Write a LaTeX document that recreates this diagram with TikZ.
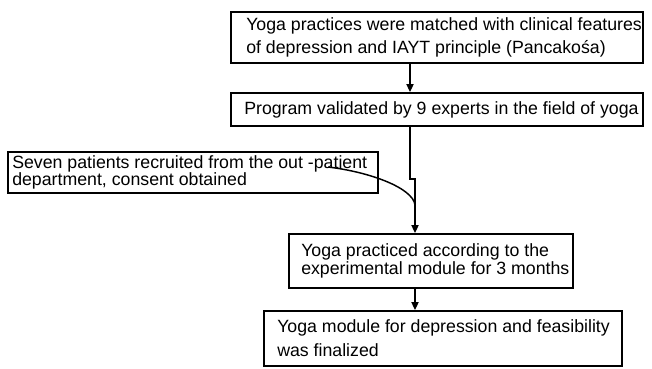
\documentclass[tikz,border=0pt]{standalone}
\usepackage{fontspec}
\setmainfont{Liberation Sans}
\usetikzlibrary{arrows.meta}
\begin{document}
\begin{tikzpicture}[x=0.75pt,y=-0.75pt,
  box/.style={draw=black, line width=1.5pt, inner sep=0pt},
  txt/.style={anchor=west, align=left, inner sep=0pt},
  arr/.style={draw=black, line width=0.8pt, -{Triangle[width=5.5pt,length=6pt]}},
  curveline/.style={draw=black, line width=1.1pt},
]
\useasboundingbox (0,0) rectangle (652,368);
% boxes
\node[box, minimum width=309pt, minimum height=38.25pt] (b1) at (437,37.5) {};
\node[box, minimum width=309pt, minimum height=24.75pt] (b2) at (437,109.5) {};
\node[box, minimum width=277.5pt, minimum height=30.75pt] (b4) at (193,172.5) {};
\node[box, minimum width=213pt, minimum height=40.5pt] (b3) at (431,261) {};
\node[box, minimum width=268.5pt, minimum height=41.25pt] (b5) at (443,338.5) {};
% texts
\node[txt, font={\fontsize{13.3pt}{17pt}\selectfont}] (t1) at (246,37.5)
  {Yoga practices were matched with clinical features\\of depression and IAYT principle (Pancakośa)};
\node[txt, font={\fontsize{13.3pt}{16pt}\selectfont}] (t2) at (244,109.5)
  {Program validated by 9 experts in the field of yoga};
\node[txt, font={\fontsize{13.3pt}{12.5pt}\selectfont}] (t4) at (12,172.5)
  {Seven patients recruited from the out -patient\\department, consent obtained};
\node[txt, font={\fontsize{13.3pt}{14pt}\selectfont}] (t3) at (301,261)
  {Yoga practiced according to the\\experimental module for 3 months};
\node[txt, font={\fontsize{13.3pt}{18pt}\selectfont}] (t5) at (277,338.5)
  {Yoga module for depression and feasibility\\was finalized};
% connectors
\coordinate (c1) at (410,0);
\draw[arr] (b1.south -| c1) -- (b2.north -| c1);
\coordinate (j1) at (410,179);
\coordinate (j2) at (415,179);
\draw[arr] (b2.south -| j1) -- (j1) -- (j2) -- (b3.north -| j2);
\coordinate (cs) at (328,167);
\coordinate (ce) at (415,205);
\draw[curveline] (cs) .. controls (370,172) and (413,188) .. (ce);
\coordinate (c3) at (415,0);
\draw[arr] (b3.south -| c3) -- (b5.north -| c3);
\end{tikzpicture}
\end{document}
